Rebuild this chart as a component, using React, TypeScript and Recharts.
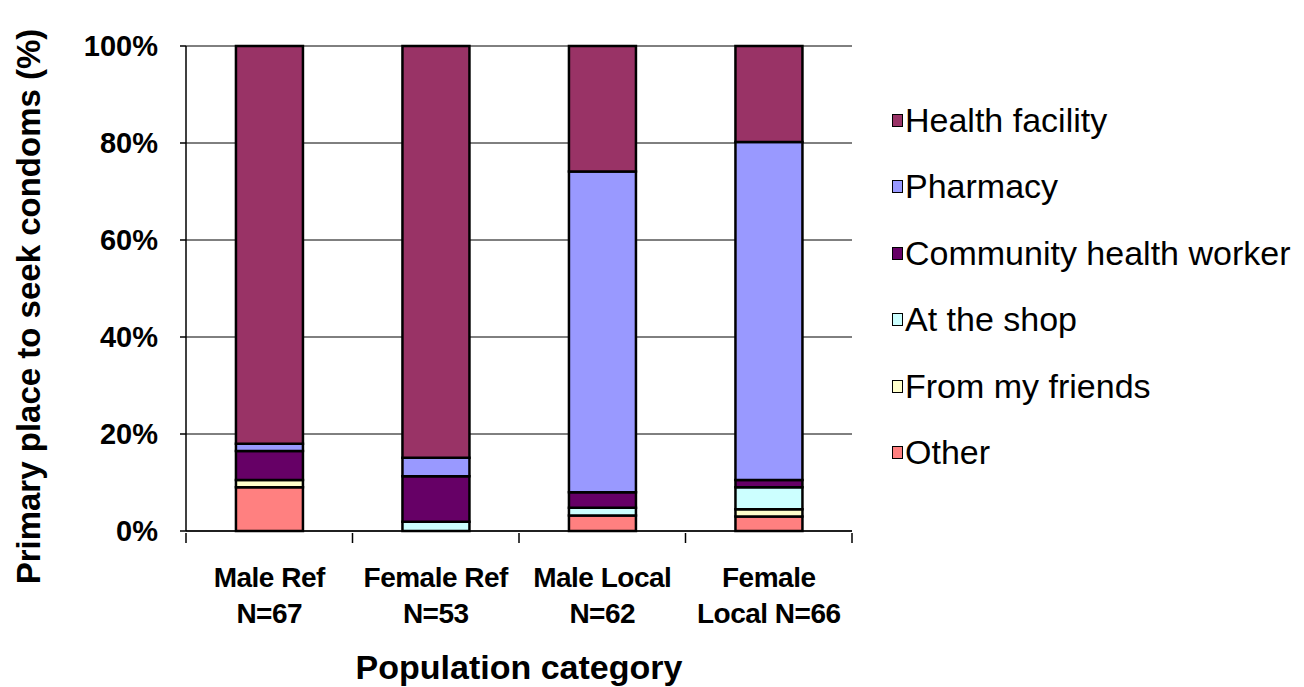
import { BarChart, Bar, XAxis, YAxis, CartesianGrid } from 'recharts';

const categories = ['Male Ref N=67', 'Female Ref N=53', 'Male Local N=62', 'Female Local N=66'];
const tickLines = [
  ['Male Ref', 'N=67'],
  ['Female Ref', 'N=53'],
  ['Male Local', 'N=62'],
  ['Female', 'Local N=66'],
];

// stacked from the bottom up
const other = [9.0, 0, 3.2, 3.0];
const friends = [1.5, 0, 0, 1.5];
const shop = [0, 1.9, 1.6, 4.5];
const chw = [6.0, 9.4, 3.2, 1.5];
const pharmacy = [1.5, 3.8, 66.1, 69.7];
const healthFacility = [82.0, 84.9, 25.9, 19.8];

const yTicks = [0, 20, 40, 60, 80, 100];

const series = [
  { key: 'other', name: 'Other', color: '#FF8080', values: other },
  { key: 'friends', name: 'From my friends', color: '#FFFFCC', values: friends },
  { key: 'shop', name: 'At the shop', color: '#CCFFFF', values: shop },
  { key: 'chw', name: 'Community health worker', color: '#660066', values: chw },
  { key: 'pharmacy', name: 'Pharmacy', color: '#9999FF', values: pharmacy },
  { key: 'hf', name: 'Health facility', color: '#993366', values: healthFacility },
];

const data = categories.map((name, i) => {
  const row: Record<string, string | number> = { name };
  series.forEach((s) => (row[s.key] = s.values[i]));
  return row;
});

const FONT = '"Liberation Sans", Arial, sans-serif';
const BAND_HALF = 666 / categories.length / 2;

function XTick(props: any) {
  const { x, y, payload, index } = props;
  const lines = tickLines[index] || [payload.value];
  return (
    <g>
      <line x1={x - BAND_HALF} x2={x - BAND_HALF} y1={y} y2={y + 10} stroke="#000" strokeWidth={1.5} />
      {index === categories.length - 1 && (
        <line x1={x + BAND_HALF} x2={x + BAND_HALF} y1={y} y2={y + 10} stroke="#000" strokeWidth={1.5} />
      )}
      {lines.map((t, i) => (
        <text key={i} x={x} y={y + 54 + i * 36} textAnchor="middle" fontFamily={FONT} fontWeight="bold" fontSize={28} letterSpacing={-0.5} fill="#000">
          {t}
        </text>
      ))}
    </g>
  );
}

function LegendBox() {
  const items = [...series].reverse();
  return (
    <div style={{ position: 'absolute', left: 892, top: 87, fontFamily: FONT }}>
      {items.map((s) => (
        <div key={s.key} style={{ display: 'flex', alignItems: 'center', height: 66.5, fontSize: 34, color: '#000', whiteSpace: 'nowrap' }}>
          <span style={{ width: 9, height: 11, background: s.color, border: '1.5px solid #000', marginRight: 2 }} />
          <span>{s.name}</span>
        </div>
      ))}
    </div>
  );
}

export default function App() {
  return (
    <div style={{ position: 'absolute', left: 0, top: 0, width: 1304, height: 687, background: '#fff' }}>
      <BarChart
        width={1304}
        height={687}
        data={data}
        margin={{ top: 46, right: 452, left: 0, bottom: 0 }}
        barCategoryGap="30%"
      >
        <CartesianGrid vertical={false} stroke="#000" strokeWidth={1} />
        <XAxis
          dataKey="name"
          height={156}
          tickLine={false}
          axisLine={{ stroke: '#000', strokeWidth: 1.5 }}
          tickSize={0}
          tick={<XTick />}
          interval={0}
          label={{
            content: ({ viewBox }: any) => (
              <text
                x={viewBox.x + viewBox.width / 2}
                y={viewBox.y + 148}
                textAnchor="middle"
                fontFamily={FONT}
                fontWeight="bold"
                fontSize={34}
                fill="#000"
              >
                Population category
              </text>
            ),
          }}
        />
        <YAxis
          width={186}
          domain={[0, 100]}
          ticks={yTicks}
          tickFormatter={(v: number) => `${v}%`}
          axisLine={{ stroke: '#000', strokeWidth: 1.5 }}
          tickLine={{ stroke: '#000', strokeWidth: 1.5 }}
          tickSize={6}
          tickMargin={22}
          tick={{ fill: '#000', fontFamily: FONT, fontWeight: 'bold', fontSize: 29 }}
          label={{
            content: ({ viewBox }: any) => {
              const cx = viewBox.x + 40;
              const cy = viewBox.y + viewBox.height / 2 + 18;
              return (
                <text
                  x={cx}
                  y={cy}
                  transform={`rotate(-90, ${cx}, ${cy})`}
                  textAnchor="middle"
                  fontFamily={FONT}
                  fontWeight="bold"
                  fontSize={33}
                  fill="#000"
                >
                  Primary place to seek condoms (%)
                </text>
              );
            },
          }}
        />
        {series.map((s) => (
          <Bar
            key={s.key}
            dataKey={s.key}
            name={s.name}
            stackId="a"
            fill={s.color}
            stroke="#000"
            strokeWidth={2.5}
            isAnimationActive={false}
          />
        ))}
      </BarChart>
      <LegendBox />
    </div>
  );
}
